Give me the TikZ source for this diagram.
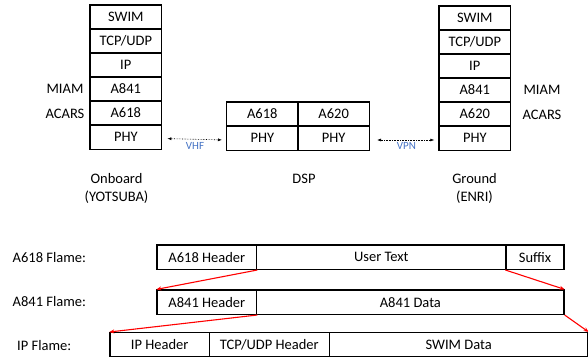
\documentclass[tikz,border=0pt]{standalone}
\usepackage{fontspec}
\setmainfont{Carlito}
\usetikzlibrary{arrows.meta}
\definecolor{lblblue}{RGB}{68,114,196}
\tikzset{
  cell/.style={draw=black, line width=1.3pt, minimum height=24.3pt, inner sep=0pt, font=\fontsize{14.5}{16}\selectfont},
  lbl/.style={inner sep=0pt, font=\fontsize{14.5}{18}\selectfont, align=center},
  linkarrow/.style={densely dotted, line width=0.6pt, {Latex[length=4pt,width=3pt]}-{Latex[length=4pt,width=3pt]}},
  linklbl/.style={inner sep=0pt, text=lblblue, font=\fontsize{11}{12}\selectfont},
  maparrow/.style={red, line width=1.1pt, -{Stealth[length=5pt,width=4pt]}}
}
\begin{document}
\begin{tikzpicture}[x=1pt,y=-1pt]
\useasboundingbox (0,0) rectangle (588,356);
\clip (0,0) rectangle (588,356);
% left stack
\node[cell, minimum width=71.7pt] (lswim) at (125.8,17) {SWIM};
\node[cell, minimum width=71.7pt] (ltcp) at (125.8,41) {TCP/UDP};
\node[cell, minimum width=71.7pt] (lip) at (125.8,65) {IP};
\node[cell, minimum width=71.7pt] (la841) at (125.8,89) {A841};
\node[cell, minimum width=71.7pt] (la618) at (125.8,113) {A618};
\node[cell, minimum width=71.7pt] (lphy) at (125.8,137) {PHY};
\node[lbl] (lmiam) at (65,89) {MIAM};
\node[lbl] (lacars) at (65,114) {ACARS};
% DSP
\node[cell, minimum width=71.3pt] (da618) at (262.3,114) {A618};
\node[cell, minimum width=71.3pt] (dphy1) at (262.3,138) {PHY};
\node[cell, minimum width=71.3pt] (da620) at (333.7,114) {A620};
\node[cell, minimum width=71.3pt] (dphy2) at (333.7,138) {PHY};
% right stack
\node[cell, minimum width=71.7pt] (rswim) at (474.8,18) {SWIM};
\node[cell, minimum width=71.7pt] (rtcp) at (474.8,42) {TCP/UDP};
\node[cell, minimum width=71.7pt] (rip) at (474.8,66) {IP};
\node[cell, minimum width=71.7pt] (ra841) at (474.8,90) {A841};
\node[cell, minimum width=71.7pt] (ra620) at (474.8,114) {A620};
\node[cell, minimum width=71.7pt] (rphy) at (474.8,138) {PHY};
\node[lbl] (rmiam) at (542,90) {MIAM};
\node[lbl] (racars) at (542,115) {ACARS};
% links
\draw[linkarrow, shorten <=5pt, shorten >=4pt] ([yshift=-1.5pt]lphy.east) -- ([yshift=-2pt]dphy1.west);
\node[linklbl] (vhf) at (195,146) {VHF};
\draw[linkarrow, shorten <=7pt, shorten >=4pt] ([yshift=-2pt]dphy2.east) -- ([yshift=-2pt]rphy.west);
\node[linklbl] (vpn) at (406.5,146) {VPN};
% captions
\node[lbl] (onboard) at (116.5,188) {Onboard\\(YOTSUBA)};
\node[lbl] (dsp) at (304,179) {DSP};
\node[lbl] (ground) at (474.5,188) {Ground\\(ENRI)};
% frames
\node[lbl, anchor=west] (f618) at (12.5,258) {A618 Flame:};
\node[lbl, anchor=west] (f841) at (12.5,302) {A841 Flame:};
\node[lbl, anchor=west] (fip) at (17,346) {IP Flame:};
\node[cell, minimum width=99.7pt] (h618) at (206.85,257.2) {A618 Header};
\node[cell, minimum width=249.3pt] (utext) at (381.35,257.2) {User Text};
\node[cell, minimum width=58pt] (suffix) at (535,257.2) {Suffix};
\node[cell, minimum width=99.7pt] (h841) at (206.85,302.2) {A841 Header};
\node[cell, minimum width=307.3pt] (d841) at (410.35,302.2) {A841 Data};
\node[cell, minimum width=99.3pt] (hip) at (159.65,344.8) {IP Header};
\node[cell, minimum width=120pt] (htcp) at (269.3,344.8) {TCP/UDP Header};
\node[cell, minimum width=258.7pt] (swim) at (458.65,344.8) {SWIM Data};
% mapping arrows
\draw[maparrow] (h618.south east) -- (h841.north west);
\draw[maparrow] (suffix.south west) -- (d841.north east);
\draw[maparrow] (h841.south east) -- (hip.north west);
\draw[maparrow] (d841.south east) -- (swim.north east);
\end{tikzpicture}
\end{document}
